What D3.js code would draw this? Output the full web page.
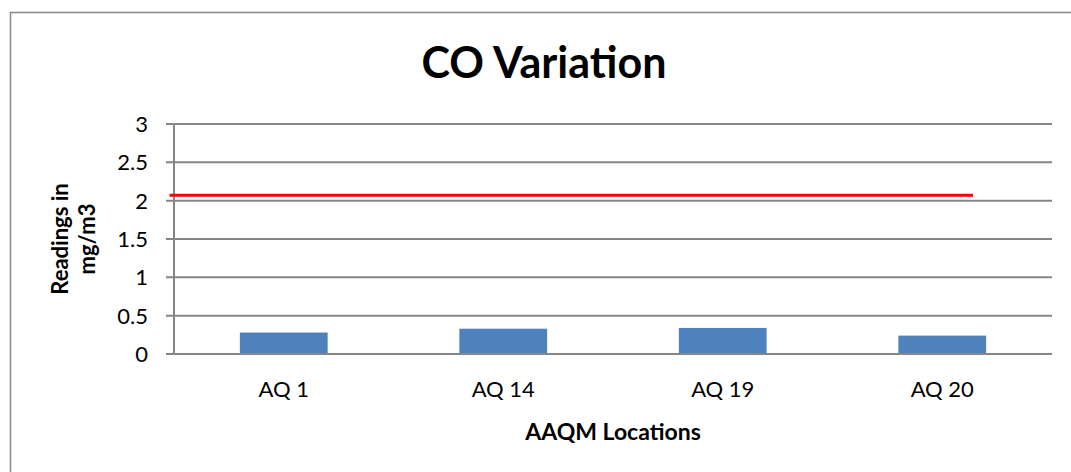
<!DOCTYPE html>
<html><head><meta charset="utf-8">
<script src="https://cdn.jsdelivr.net/npm/d3@7"></script>
<style>
html,body{margin:0;padding:0;background:#fff;}
svg{display:block;font-family:Lato,"Open Sans",sans-serif;}
</style></head>
<body><svg id="c" width="1071" height="472"></svg>
<script>
const categories = ["AQ 1", "AQ 14", "AQ 19", "AQ 20"];
const values = [0.28, 0.33, 0.34, 0.24];
const yTicks = [0, 0.5, 1, 1.5, 2, 2.5, 3];
const limitValue = 2.07;
const limitSpan = [-0.52, 3.14]; // in category-index units
const titleText = "CO Variation";
const yTitleLines = ["Readings in", "mg/m3"];
const xTitleText = "AAQM Locations";

const svg = d3.select("#c");
const m = {left:174, right:1052, top:124, bottom:354};

// chart border
svg.append("rect").attr("x",10.5).attr("y",12.5).attr("width",1080).attr("height",500)
  .attr("fill","none").attr("stroke","#868686").attr("stroke-width",1.5);

const x = d3.scaleBand().domain(categories).range([m.left, m.right]).paddingInner(0).paddingOuter(0);
const xi = d3.scaleLinear().domain([-0.5, categories.length-0.5]).range([m.left, m.right]);
const y = d3.scaleLinear().domain([0,3]).range([m.bottom, m.top]);

// gridlines
svg.append("g").selectAll("line").data(yTicks).join("line")
  .attr("x1", m.left-8).attr("x2", m.right)
  .attr("y1", d=>y(d)).attr("y2", d=>y(d))
  .attr("stroke","#868686").attr("stroke-width",2);

// y axis line
svg.append("line").attr("x1",m.left).attr("x2",m.left).attr("y1",m.top).attr("y2",m.bottom)
  .attr("stroke","#868686").attr("stroke-width",2);

// y tick labels
svg.append("g").selectAll("text").data(yTicks).join("text")
  .attr("x", m.left-26).attr("y", d=>y(d)).attr("dy","0.36em")
  .attr("text-anchor","end").attr("font-size",22).attr("fill","#000")
  .text(d=>d);

// bars
const bw = x.bandwidth()*0.4;
svg.append("g").selectAll("rect").data(values).join("rect")
  .attr("x",(d,i)=>x(categories[i])+x.bandwidth()/2-bw/2)
  .attr("width",bw)
  .attr("y",d=>y(d)).attr("height",d=>y(0)-y(d))
  .attr("fill","#4F81BD");

// baseline on top
svg.append("line").attr("x1",m.left-8).attr("x2",m.right).attr("y1",y(0)).attr("y2",y(0))
  .attr("stroke","#868686").attr("stroke-width",2);

// limit line
svg.append("line").attr("x1",xi(limitSpan[0])).attr("x2",xi(limitSpan[1]))
  .attr("y1",y(limitValue)).attr("y2",y(limitValue))
  .attr("stroke","#FF0000").attr("stroke-width",3);

// x labels
svg.append("g").selectAll("text").data(categories).join("text")
  .attr("x", d=>x(d)+x.bandwidth()/2).attr("y", 397)
  .attr("text-anchor","middle").attr("font-size",22).attr("fill","#000")
  .text(d=>d);

// x title
svg.append("text").attr("x",(m.left+m.right)/2).attr("y",440)
  .attr("text-anchor","middle").attr("font-size",23).attr("font-weight","bold").text(xTitleText);

// y title
const yt = svg.append("text").attr("transform",`translate(0,${(m.top+m.bottom)/2}) rotate(-90)`)
  .attr("text-anchor","middle").attr("font-size",22).attr("font-weight","bold");
yTitleLines.forEach((t,i)=>{
  yt.append("tspan").attr("x",0).attr("y", 68 + i*27).text(t);
});

// title
svg.append("text").attr("x",544).attr("y",78).attr("text-anchor","middle")
  .attr("font-size",43).attr("font-weight","bold").text(titleText);
</script></body></html>
